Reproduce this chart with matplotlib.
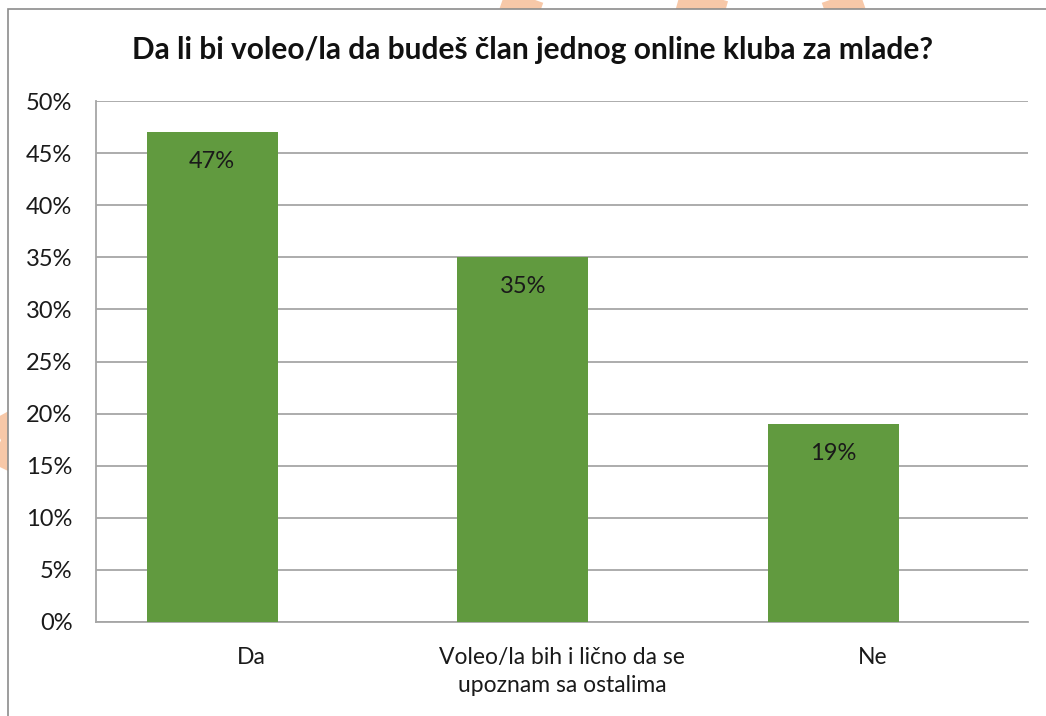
import matplotlib
matplotlib.use("Agg")
from matplotlib import pyplot as plt
from matplotlib.lines import Line2D
from matplotlib.patches import Rectangle
from matplotlib.ticker import FuncFormatter, MultipleLocator

categories = ["Da", "Voleo/la bih i lično da se\nupoznam sa ostalima", "Ne"]
values = [47, 35, 19]
bar_labels = ["47%", "35%", "19%"]
title = "Da li bi voleo/la da budeš član jednog online kluba za mlade?"

plt.rcParams['font.family'] = ['Lato', 'DejaVu Sans']

W, H = 1046, 716
fig = plt.figure(figsize=(W / 100, H / 100), dpi=100)

# orange watermark strokes peeking out around the chart frame
orange = '#f7c8a8'
def px_line(x0, y0, x1, y1, lw):
    fig.add_artist(Line2D([x0 / W, x1 / W], [1 - y0 / H, 1 - y1 / H],
                          transform=fig.transFigure, color=orange, lw=lw,
                          solid_capstyle='butt', zorder=0))
px_line(500, -2, 540, 12, 14)
px_line(675, -2, 725, 12, 16)
px_line(865, -2, 825, 12, 14)
px_line(-10, 400, 12, 440, 14)
px_line(12, 440, -10, 485, 14)

# chart frame (the white box, cut off on right and bottom)
fig.add_artist(Rectangle((8 / W, -0.05), 1.1, 1 - 9 / H + 0.05,
                         transform=fig.transFigure, facecolor='white',
                         edgecolor='#8c8c8c', lw=1.2, zorder=1))

ax = fig.add_axes([96 / W, 1 - 622 / H, (1028 - 96) / W, (622 - 101) / H])
ax.set_zorder(2)
ax.patch.set_alpha(0)

# category slots are centred in the plot area, bars sit a bit left of them
x = list(range(len(categories)))
bar_shift = -0.126
bars = ax.bar([i + bar_shift for i in x], values, width=0.422,
              color='#619a3f', zorder=3)
for b, lab in zip(bars, bar_labels):
    ax.annotate(lab, (b.get_x() + b.get_width() / 2, b.get_height()),
                xytext=(0, -29), textcoords='offset pixels',
                ha='center', va='center', fontsize=17, color='#1a1a1a', zorder=4)

ax.set_xlim(-0.5, 2.5)
ax.set_ylim(0, 50)
ax.yaxis.set_major_locator(MultipleLocator(5))
ax.yaxis.set_major_formatter(FuncFormatter(lambda v, p: f"{v:.0f}%"))
ax.grid(axis='y', color='#a6a6a6', lw=1.3, zorder=0)
ax.set_axisbelow(True)

ax.set_xticks(x)
ax.set_xticklabels(categories, fontsize=16.5, color='#1a1a1a', linespacing=1.42)
ax.tick_params(axis='x', length=0, pad=18)
ax.tick_params(axis='y', length=0, pad=17, labelsize=17, labelcolor='#1a1a1a')

for s in ['top', 'right']:
    ax.spines[s].set_visible(False)
for s in ['left', 'bottom']:
    ax.spines[s].set_color('#a6a6a6')
    ax.spines[s].set_linewidth(1.3)

fig.text(532 / W, 1 - 50 / H, title, ha='center', va='center',
         fontsize=21.5, fontweight='bold', color='#111111')

fig.savefig("out.png", dpi=100)
